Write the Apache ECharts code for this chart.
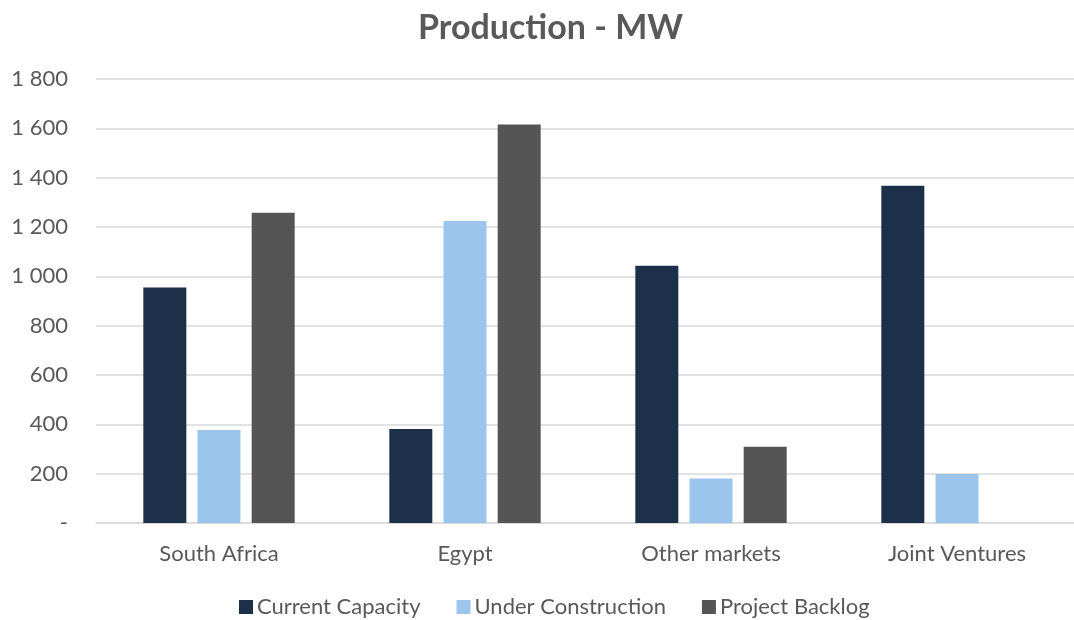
<!DOCTYPE html>
<html>
<head>
<meta charset="utf-8">
<script src="https://cdn.jsdelivr.net/npm/echarts@6/dist/echarts.min.js"></script>
<style>
  html, body { margin: 0; padding: 0; background: #fff; }
  #chart { width: 1074px; height: 620px; }
</style>
</head>
<body>
<div id="chart"></div>
<script>
// Production capacity by market, in MW
const categories = ['South Africa', 'Egypt', 'Other markets', 'Joint Ventures'];
const currentCapacity = [955, 381, 1043, 1367];
const underConstruction = [377, 1224, 180, 199];
const projectBacklog = [1258, 1616, 309, 0];
const seriesNames = ['Current Capacity', 'Under Construction', 'Project Backlog'];

const FONT = 'Lato, "Noto Sans", sans-serif';
const TEXT = '#595959';

function fmt(v) {
  if (v === 0) return '-';
  return String(v).replace(/\B(?=(\d{3})+(?!\d))/g, ' ');
}

const chart = echarts.init(document.getElementById('chart'), null, { renderer: 'canvas' });

const barStyle = (name, data, color) => ({
  name: name,
  type: 'bar',
  data: data,
  barWidth: 43,
  barGap: '26%',
  itemStyle: { color: color },
  emphasis: { disabled: true }
});

chart.setOption({
  animation: false,
  textStyle: { fontFamily: FONT },
  title: {
    text: 'Production - MW',
    left: 413,
    top: 6,
    textStyle: { fontFamily: FONT, fontSize: 34, fontWeight: 'bold', color: TEXT }
  },
  legend: {
    top: 591,
    left: 234,
    itemWidth: 14,
    itemHeight: 14,
    itemGap: 36,
    icon: 'rect',
    textStyle: { fontFamily: FONT, fontSize: 22, color: TEXT, padding: [0, 0, 0, -1] },
    data: seriesNames
  },
  // the plot area runs slightly past the right edge of the canvas
  grid: { left: 96, width: 984, top: 79, bottom: 97, containLabel: false, outerBoundsMode: 'none' },
  xAxis: {
    type: 'category',
    data: categories,
    axisLine: { lineStyle: { color: '#d9d9d9', width: 1.5 } },
    axisTick: { show: false },
    axisLabel: { fontFamily: FONT, fontSize: 22, color: TEXT, margin: 20 }
  },
  yAxis: {
    type: 'value',
    min: 0,
    max: 1800,
    interval: 200,
    axisLine: { show: false },
    axisTick: { show: false },
    splitLine: { lineStyle: { color: '#d9d9d9', width: 1.5 } },
    axisLabel: { fontFamily: FONT, fontSize: 22, color: TEXT, margin: 28, formatter: fmt }
  },
  series: [
    barStyle(seriesNames[0], currentCapacity, '#1c3149'),
    barStyle(seriesNames[1], underConstruction, '#9bc5ea'),
    barStyle(seriesNames[2], projectBacklog, '#555555')
  ]
});
</script>
</body>
</html>
